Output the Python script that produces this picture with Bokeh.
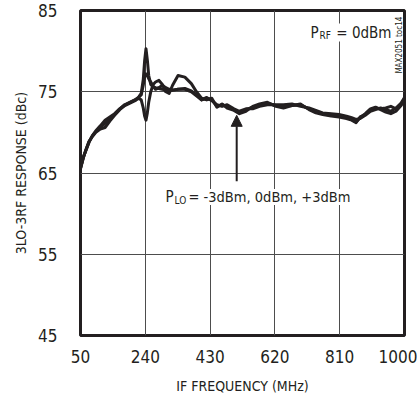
import math
from bokeh.plotting import figure
from bokeh.models import Range1d, FixedTicker, Label, Arrow, NormalHead, LinearAxis
from bokeh.embed import file_html
from bokeh.resources import INLINE

# IF frequency (MHz) and 3LO-3RF response (dBc) for three LO drive levels
freq = [50, 58, 66, 75, 85, 95, 108, 122, 136, 150, 165, 180, 195, 210, 220,
        228, 234, 238, 242, 246, 250, 256, 263, 270, 280, 290, 300, 310, 320,
        336, 356, 375, 390, 405, 420, 435, 450, 465, 480, 500, 516, 535, 555,
        575, 598, 623, 645, 670, 695, 720, 740, 760, 785, 808, 830, 845, 858,
        870, 885, 900, 915, 930, 945, 960, 975, 990, 1000]

resp_plus3 = [65.6, 66.9, 67.8, 68.8, 69.6, 70.2, 70.8, 71.5, 71.9, 72.3, 72.9,
              73.4, 73.7, 74.0, 74.3,
              74.8, 76.5, 78.8, 80.3, 78.9, 77.0, 75.9, 75.6, 75.5, 75.4, 75.3,
              75.2, 75.1, 75.2, 75.3, 75.3, 75.0, 74.5, 74.0, 74.2, 74.0, 73.2,
              73.4, 73.2, 72.8, 72.4, 72.8, 73.1, 73.3, 73.6, 73.3, 73.2, 73.3,
              73.4, 72.9, 72.6, 72.3, 72.2, 72.1, 71.9, 71.6, 71.3, 71.8, 72.3,
              72.9, 73.1, 72.8, 72.5, 72.3, 72.6, 73.3, 74.1]

resp_minus3 = [65.5, 66.8, 67.9, 68.9, 69.5, 70.0, 70.4, 70.6, 71.4, 72.1, 72.8,
               73.3, 73.6, 73.9, 74.2,
               74.0, 73.0, 72.0, 71.5, 72.4, 73.7, 75.0, 75.9, 76.2, 76.4, 75.9,
               75.0, 74.8, 75.8, 77.0, 76.8, 76.0, 75.0, 74.2, 74.0, 74.2, 73.1,
               73.5, 73.0, 72.7, 72.3, 72.6, 73.2, 73.5, 73.7, 73.2, 73.0, 73.3,
               73.5, 72.8, 72.4, 72.2, 72.0, 71.9, 71.7, 71.5, 71.2, 71.9, 72.2,
               72.8, 73.0, 72.9, 73.0, 73.2, 72.9, 73.4, 74.0]

resp_zero = [65.6, 66.9, 67.8, 68.8, 69.6, 70.1, 70.6, 71.1, 71.7, 72.2, 72.9,
             73.4, 73.7, 74.0, 74.3,
             74.6, 75.8, 76.8, 77.2, 77.0, 76.6, 76.2, 75.7, 75.3, 75.5, 75.8,
             75.5, 75.3, 75.2, 75.3, 75.4, 75.1, 74.6, 74.0, 74.3, 73.9, 73.4,
             73.2, 73.4, 72.9, 72.6, 72.9, 72.9, 73.2, 73.4, 73.4, 73.4, 73.5,
             73.2, 73.0, 72.7, 72.4, 72.3, 72.2, 72.0, 71.8, 71.6, 71.7, 72.1,
             72.6, 72.8, 73.0, 72.8, 72.6, 73.0, 73.6, 74.3]

x_ticks = [50, 240, 430, 620, 810, 1000]
y_ticks = [45, 55, 65, 75, 85]

FONT = "DejaVu Sans Condensed"
INK = "#231f20"

p = figure(width=417, height=396, output_backend="svg", toolbar_location=None,
           x_range=Range1d(50, 1000), y_range=Range1d(45, 85),
           min_border_left=80, min_border_right=13,
           min_border_top=10, min_border_bottom=61)

p.outline_line_color = INK
p.outline_line_width = 3
p.background_fill_color = "white"
p.border_fill_color = "white"

for ax in (p.xaxis[0], p.yaxis[0]):
    ax.axis_line_color = None
    ax.major_tick_line_color = None
    ax.minor_tick_line_color = None
    ax.major_label_text_font = FONT
    ax.major_label_text_font_size = "17px"
    ax.major_label_text_color = INK
    ax.axis_label_text_font = FONT
    ax.axis_label_text_font_size = "14px"
    ax.axis_label_text_font_style = "normal"
    ax.axis_label_text_color = INK

p.xaxis.ticker = FixedTicker(ticks=x_ticks)
p.yaxis.ticker = FixedTicker(ticks=y_ticks)
p.xaxis.axis_label = "IF FREQUENCY (MHz)"
p.yaxis.axis_label = "3LO-3RF RESPONSE (dBc)"
p.xaxis.major_label_standoff = 8
p.yaxis.major_label_standoff = 17
p.xaxis.axis_label_standoff = 12
p.yaxis.axis_label_standoff = 6

p.xgrid.ticker = FixedTicker(ticks=x_ticks)
p.ygrid.ticker = FixedTicker(ticks=y_ticks)
for g in (p.xgrid[0], p.ygrid[0]):
    g.grid_line_color = "#4d4d4d"
    g.grid_line_width = 1

# figure id printed up the right-hand margin
TOC_POS = 81.2
toc_axis = LinearAxis(ticker=FixedTicker(ticks=[TOC_POS]),
                      major_label_overrides={TOC_POS: "MAX2051 toc14"},
                      major_label_orientation=math.pi / 2,
                      major_label_standoff=-5,
                      major_label_text_font=FONT,
                      major_label_text_font_size="8px",
                      major_label_text_color=INK,
                      major_tick_out=0, major_tick_in=0,
                      minor_tick_out=0, minor_tick_in=0,
                      axis_line_color=None,
                      major_tick_line_color=None,
                      minor_tick_line_color=None)
p.add_layout(toc_axis, "right")

# annotation text with white boxes so grid lines stop around it
def add_text(x, y, text, dx, dy, size, align="left"):
    lab = Label(x=x, y=y, text=text, x_offset=dx, y_offset=dy,
                text_font=FONT, text_font_size=size, text_color=INK,
                text_baseline="alphabetic", text_align=align,
                background_fill_color="white")
    p.add_layout(lab)

# P_RF = 0dBm
add_text(1000, 85, "P", -94, -22, "15px")
add_text(1000, 85, "RF", -85, -25, "10px")
add_text(1000, 85, "= 0dBm", -13, -22, "15px", align="right")

# P_LO = -3dBm, 0dBm, +3dBm
add_text(50, 65, "P", 85, -24, "15px")
add_text(50, 65, "LO", 94, -27, "10px")
add_text(50, 65, "= -3dBm, 0dBm, +3dBm", 108, -24, "14.5px")

p.add_layout(Arrow(end=NormalHead(size=11, fill_color=INK, line_color=INK),
                   x_start=508, y_start=64.0, x_end=508, y_end=72.1,
                   line_color=INK, line_width=2))

for series in (resp_minus3, resp_zero, resp_plus3):
    p.line(freq, series, line_color=INK, line_width=3,
           line_join="round", line_cap="round")

open("out.html", "w").write(file_html(p, INLINE))
